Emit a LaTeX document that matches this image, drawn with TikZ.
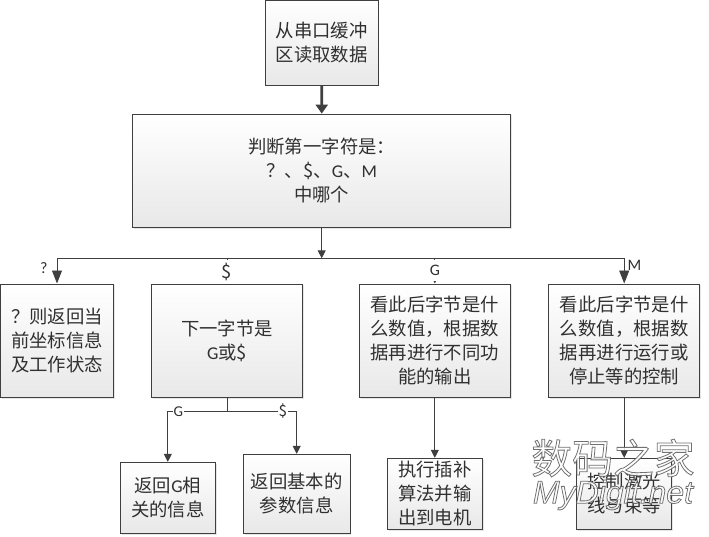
\documentclass[tikz,border=0pt]{standalone}
\usepackage{fontspec}
\setmainfont{Carlito}
\newfontfamily\cjk{Noto Sans CJK SC}[Scale=1.02]
\newfontfamily\markfont{Liberation Sans}
\usetikzlibrary{shadows,arrows.meta}
\definecolor{linegray}{HTML}{3F3F3F}
\definecolor{textgray}{HTML}{303030}
\newcommand{\outlined}[1]{\special{pdf:code q 2 Tr 0.8 w 0.35 G}#1\special{pdf:code Q}}
\tikzset{
    stepbox/.style={draw=linegray, line width=0.9pt, top color=white, bottom color=black!9, text=textgray,
        drop shadow={shadow xshift=1.2pt, shadow yshift=-1.2pt, fill=black!12, opacity=0.8},
        align=center, font=\fontsize{18}{24}\selectfont, inner sep=0pt},
    link/.style={draw=linegray, line width=0.9pt, -{Triangle[length=8pt,width=8pt]}},
    biglink/.style={link, -{Triangle[length=13pt,width=10pt]}},
    tag/.style={fill=white, text=textgray, inner sep=0.5pt},
    stamp/.style={text=white, opacity=0.85, inner sep=0pt},
}
\begin{document}
\begin{tikzpicture}[x=1pt, y=-1pt]
    \useasboundingbox (0,0) rectangle (709,536);

    % Top of the flow
    \node[stepbox, minimum width=112.5pt, minimum height=85pt] (read) at (321.8,42.5) {\cjk 从串口缓冲\\\cjk 区读取数据};
    \node[stepbox, minimum width=378pt, minimum height=113.5pt] (judge) at (321.7,170.8) {\cjk 判断第一字符是：\\\cjk ？、\$、{\rmfamily G}、{\rmfamily M}\\\cjk 中哪个};

    % Second row
    \node[stepbox, minimum width=113pt, minimum height=113.5pt] (query) at (57,340.7) {\cjk ？则返回当\\\cjk 前坐标信息\\\cjk 及工作状态};
    \node[stepbox, minimum width=151pt, minimum height=113.5pt] (dollar) at (227,340.7) {\cjk 下一字节是\\G\cjk 或\$};
    \node[stepbox, minimum width=151pt, minimum height=113.5pt] (gcode) at (434.8,340.7) {\cjk 看此后字节是什\\\cjk 么数值，根据数\\\cjk 据再进行不同功\\\cjk 能的输出};
    \node[stepbox, minimum width=151pt, minimum height=113.5pt] (mcode) at (624.2,340.7) {\cjk 看此后字节是什\\\cjk 么数值，根据数\\\cjk 据再进行运行或\\\cjk 停止等的控制};

    % Third row
    \node[stepbox, minimum width=95pt, minimum height=71pt] (ginfo) at (167.8,497.8) {\cjk 返回{\rmfamily G}相\\\cjk 关的信息};
    \node[stepbox, minimum width=106.7pt, minimum height=79pt] (param) at (296.7,493.8) {\cjk 返回基本的\\\cjk 参数信息};
    \node[stepbox, minimum width=95pt, minimum height=71pt] (motor) at (434.8,493.8) {\cjk 执行插补\\\cjk 算法并输\\\cjk 出到电机};
    \node[stepbox, minimum width=95pt, minimum height=71pt] (laser) at (624.2,493.8) {\cjk 控制激光\\\cjk 线与束等};

    % Junctions
    \coordinate (bus) at (321.7,258.3);
    \coordinate (fork) at (227,411.3);

    % Arrows
    \draw[link, line width=2.6pt, -{Triangle[length=9pt,width=12pt]}] (read) -- (judge);
    \draw[link] (judge) -- (bus);
    \draw[biglink] (bus) -| node[pos=0.69, left=9pt, text=textgray, inner sep=0pt, font=\fontsize{16}{16}\selectfont] (qmark) {?} (query.north);
    \draw[biglink] (bus) -| (mcode.north);
    \draw[link] (bus) -| node[tag, pos=0.767, minimum height=24pt, font=\fontsize{18}{18}\selectfont\cjk] (dmark) {\$} (dollar.north);
    \draw[link] (bus) -| node[tag, pos=0.74, minimum height=21pt, font=\fontsize{16}{16}\selectfont] (gmark) {G} (gcode.north);
    \node[text=textgray, font=\fontsize{16}{16}\selectfont, inner sep=0pt] (mmark) at (634.5,265) {M};
    \draw[link] (dollar) -- (fork) -| node[tag, pos=0.41, font=\fontsize{15}{15}\selectfont] (gbranch) {G} (ginfo.north);
    \draw[link] (fork) -| node[tag, pos=0.4, font=\fontsize{15}{15}\selectfont\cjk] (dbranch) {\$} (param.north);
    \draw[link] (gcode) -- (motor);
    \draw[link] (mcode) -- (laser);

    % Site stamp
    \node[stamp, font=\fontsize{40}{40}\selectfont\cjk] (stampcn) at (613,458) {\outlined{数码之家}};
    \node[stamp, font=\fontsize{32}{32}\selectfont\markfont\itshape] (stampen) at (613,495) {\outlined{MyDigit.net}};

\end{tikzpicture}
\end{document}
